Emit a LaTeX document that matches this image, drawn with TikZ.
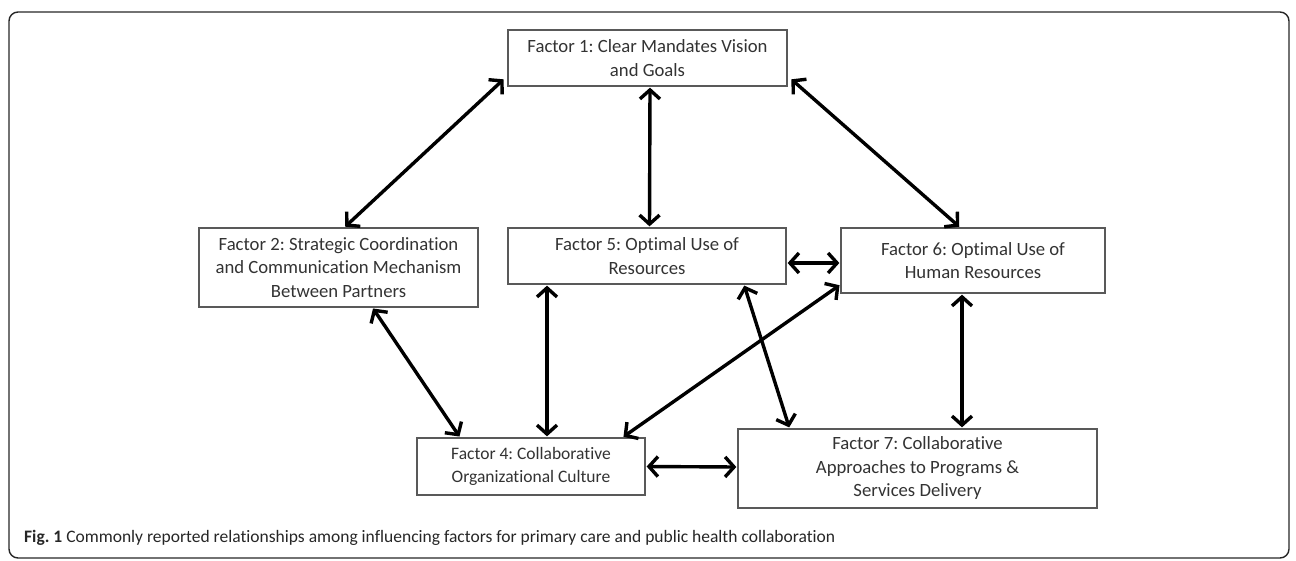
\documentclass[tikz,border=0pt]{standalone}
\usepackage{fontspec}
\setmainfont[Ligatures={NoCommon}]{Carlito}
\usetikzlibrary{arrows.meta}
\begin{document}
\frenchspacing
\begin{tikzpicture}[x=1pt,y=-1pt,
  factor/.style={draw=black!65,line width=1.3pt,fill=white,align=center,
    inner sep=0pt,font=\fontsize{18.7}{23.5}\selectfont,text=black!80},
  link/.style={line width=3.4pt,draw=black,
    {Straight Barb[length=9pt,width=20pt,line width=3.4pt]}-{Straight Barb[length=9pt,width=20pt,line width=3.4pt]},
    shorten <=1pt,shorten >=1pt}]
\useasboundingbox (0,0) rectangle (1296,560);
\draw[line width=1.4pt,rounded corners=9pt,black!85] (9,12) rectangle (1289,558);
\node[factor,minimum width=279pt,minimum height=56pt] (f1) at (647.5,58) {Factor 1: Clear Mandates Vision\\and Goals};
\node[factor,minimum width=279pt,minimum height=79pt] (f2) at (338.5,267.5) {Factor 2: Strategic Coordination\\and Communication Mechanism\\Between Partners};
\node[factor,minimum width=278pt,minimum height=56pt] (f5) at (647,256) {Factor 5: Optimal Use of\\Resources};
\node[factor,minimum width=264pt,minimum height=65pt] (f6) at (973,260.5) {Factor 6: Optimal Use of\\Human Resources};
\node[factor,minimum width=228pt,minimum height=57pt,font=\fontsize{17.5}{23}\selectfont] (f4) at (531,466.5) {Factor 4: Collaborative\\Organizational Culture};
\node[factor,minimum width=359pt,minimum height=79pt] (f7) at (917.5,468.5) {Factor 7: Collaborative\\Approaches to Programs \&\\Services Delivery};
\draw[link] ([shift={(-3,-8)}]f1.south west) -- ([xshift=6pt]f2.north);
\draw[link] ([xshift=2.5pt]f1.south) -- ([xshift=2.5pt]f5.north);
\draw[link] ([shift={(3,-8)}]f1.south east) -- ([xshift=-13pt]f6.north);
\draw[link] ([yshift=-7pt]f5.east) -- ([yshift=-2.5pt]f6.west);
\draw[link] ([xshift=34pt]f2.south) -- ([xshift=-71pt]f4.north);
\draw[link] ([xshift=-100pt]f5.south) -- ([xshift=16pt]f4.north);
\draw[link] ([yshift=9pt]f6.south west) -- ([xshift=-23pt]f4.north east);
\draw[link] ([xshift=97pt]f5.south) -- ([xshift=-128pt]f7.north);
\draw[link] ([xshift=-11pt]f6.south) -- ([xshift=44.5pt]f7.north);
\draw[link] (f4.east) -- ([yshift=1.5pt]f7.west);
\node[anchor=base west,inner sep=0pt,font=\fontsize{17.5}{21}\selectfont,text=black!85] (cap) at (24,542)
  {\textbf{Fig. 1} Commonly reported relationships among influencing factors for primary care and public health collaboration};
\end{tikzpicture}
\end{document}
